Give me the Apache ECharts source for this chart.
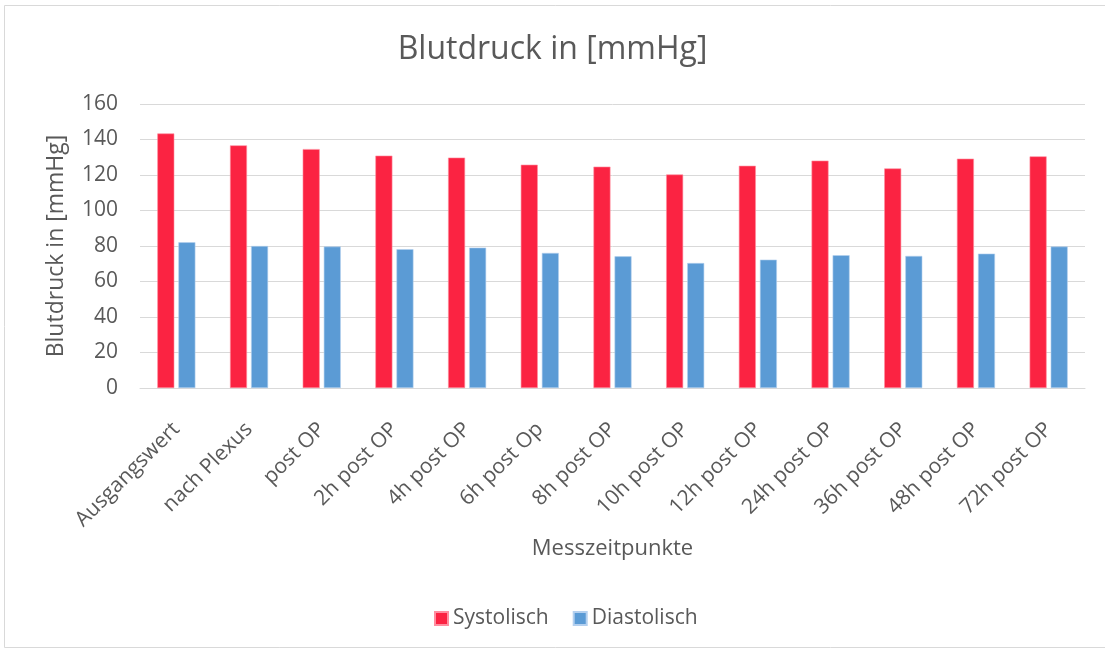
<!DOCTYPE html>
<html>
<head>
<meta charset="utf-8">
<script src="https://cdn.jsdelivr.net/npm/echarts@6/dist/echarts.min.js"></script>
<style>
  html, body { margin: 0; padding: 0; background: #fff; }
  #chart { width: 1105px; height: 651px; }
</style>
</head>
<body>
<div id="chart"></div>
<script>
var categories = ['Ausgangswert', 'nach Plexus', 'post OP', '2h post OP', '4h post OP', '6h post Op',
  '8h post OP', '10h post OP', '12h post OP', '24h post OP', '36h post OP', '48h post OP', '72h post OP'];
var systolisch = [143.4, 136.7, 134.6, 130.9, 129.8, 125.8, 124.7, 120.3, 125.2, 128.1, 123.7, 129.2, 130.5];
var diastolisch = [82.1, 80.0, 79.7, 78.2, 79.1, 76.1, 74.2, 70.4, 72.3, 74.8, 74.4, 75.7, 79.7];

var font = 'Open Sans';
var grey = '#595959';

var myChart = echarts.init(document.getElementById('chart'));

var option = {
  animation: false,
  textStyle: { fontFamily: font },
  graphic: [{
    type: 'rect',
    shape: { x: 4.5, y: 5.5, width: 1110, height: 642 },
    style: { fill: 'none', stroke: '#d9d9d9', lineWidth: 1 },
    silent: true
  }],
  title: {
    text: 'Blutdruck in [mmHg]',
    left: 'center',
    top: 29,
    textStyle: { fontFamily: font, fontSize: 32, fontWeight: 'normal', color: grey }
  },
  legend: {
    bottom: 17,
    left: 429,
    itemWidth: 13,
    itemHeight: 13,
    itemGap: 24,
    icon: 'rect',
    textStyle: { fontFamily: font, fontSize: 21, color: grey },
    data: ['Systolisch', 'Diastolisch']
  },
  grid: { left: 140, right: 20, top: 104, bottom: 263 },
  xAxis: {
    type: 'category',
    data: categories,
    name: 'Messzeitpunkte',
    nameLocation: 'middle',
    nameGap: 150,
    nameTextStyle: { fontFamily: font, fontSize: 22, color: grey },
    axisLine: { lineStyle: { color: '#d9d9d9' } },
    axisTick: { show: false },
    axisLabel: { rotate: 45, fontSize: 21, color: grey, margin: 38, interval: 0 }
  },
  yAxis: {
    type: 'value',
    min: 0,
    max: 160,
    interval: 20,
    name: 'Blutdruck in [mmHg]',
    nameLocation: 'middle',
    nameGap: 72,
    nameTextStyle: { fontFamily: font, fontSize: 23, color: grey },
    axisLine: { show: false },
    axisTick: { show: false },
    axisLabel: { fontSize: 21, color: grey, margin: 22 },
    splitLine: { lineStyle: { color: '#d9d9d9', width: 1 } }
  },
  series: [{
    name: 'Systolisch',
    type: 'bar',
    data: systolisch,
    barWidth: 17,
    barGap: '24%',
    itemStyle: { color: '#fb2342', borderColor: '#ff8ea0', borderWidth: 0.6 }
  }, {
    name: 'Diastolisch',
    type: 'bar',
    data: diastolisch,
    barWidth: 17,
    itemStyle: { color: '#5b9bd5', borderColor: '#b4d0ef', borderWidth: 0.6 }
  }]
};

myChart.setOption(option);
</script>
</body>
</html>
